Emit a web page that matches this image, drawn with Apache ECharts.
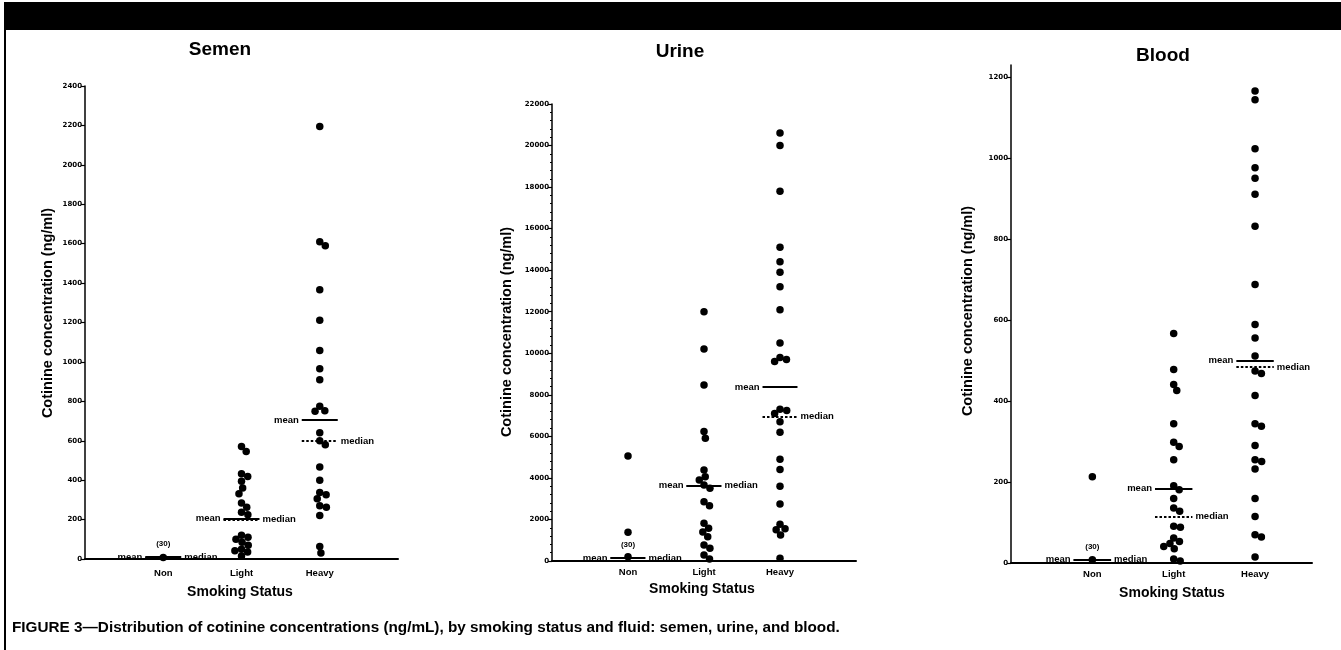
<!DOCTYPE html>
<html>
<head>
<meta charset="utf-8">
<script src="https://cdn.jsdelivr.net/npm/echarts@6/dist/echarts.min.js"></script>
<style>
  html, body { margin: 0; padding: 0; background: #fff; }
  #chart { width: 1341px; height: 650px; }
</style>
</head>
<body>
<div id="chart"></div>
<script>
// smoking groups on the x axis
const categories = ['Non', 'Light', 'Heavy'];

// semen cotinine (ng/ml)
const semenNon = [8];
const semenLight = [571, 546, 433, 419, 394, 360, 331, 284, 262, 237, 225, 120, 110, 100, 85, 70, 50, 42, 35, 15];
const semenHeavy = [2195, 1610, 1590, 1366, 1211, 1058, 965, 910, 775, 752, 750, 640, 600, 580, 467, 399, 338, 326, 306, 270, 262, 221, 64, 30];
const semenMean = [10, 204, 705];
const semenMedian = [8, 200, 599];
const semenTicks = [0, 200, 400, 600, 800, 1000, 1200, 1400, 1600, 1800, 2000, 2200, 2400];

// urine cotinine (ng/ml)
const urineNon = [5060, 1380, 200];
const urineLight = [12000, 10200, 8478, 6230, 5909, 4383, 4061, 3902, 3661, 3502, 2857, 2665, 1815, 1574, 1400, 1172, 771, 610, 289, 96];
const urineHeavy = [20600, 20000, 17800, 15100, 14400, 13900, 13200, 12100, 10500, 9800, 9700, 9600, 7300, 7250, 7100, 6700, 6200, 4900, 4400, 3600, 2750, 1770, 1550, 1500, 1250, 130];
const urineMean = [150, 3627, 8380];
const urineMedian = [140, 3627, 6940];
const urineTicks = [0, 2000, 4000, 6000, 8000, 10000, 12000, 14000, 16000, 18000, 20000, 22000];

// blood cotinine (ng/ml)
const bloodNon = [213, 8];
const bloodLight = [567, 478, 441, 426, 344, 298, 288, 255, 191, 181, 159, 136, 128, 91, 88, 62, 53, 48, 41, 35, 10, 5];
const bloodHeavy = [1166, 1144, 1023, 976, 950, 911, 832, 688, 589, 556, 511, 474, 468, 414, 344, 338, 290, 255, 251, 232, 159, 115, 70, 64, 15];
const bloodMean = [8, 184, 500];
const bloodMedian = [8, 114, 484];
const bloodTicks = [0, 200, 400, 600, 800, 1000, 1200];

const nonCount = '(30)';

const FONT = 'Liberation Sans, Arial, sans-serif';
const TICK_FONT = 'DejaVu Sans, sans-serif';

const panels = [
    { title: 'Semen', groups: [semenNon, semenLight, semenHeavy], mean: semenMean, median: semenMedian,
      ticks: semenTicks, yMax: 2400, xMax: 4, minor: false, xOffset: 4,
      grid: { left: 85, top: 86, width: 313, height: 473 },
      titlePos: [220, 50], yNamePos: [48, 313], xNamePos: [240, 592] },
    { title: 'Urine', groups: [urineNon, urineLight, urineHeavy], mean: urineMean, median: urineMedian,
      ticks: urineTicks, yMax: 22000, xMax: 4, minor: true, xOffset: 1,
      grid: { left: 552, top: 104, width: 304, height: 457 },
      titlePos: [680, 52], yNamePos: [507, 332], xNamePos: [702, 589] },
    { title: 'Blood', groups: [bloodNon, bloodLight, bloodHeavy], mean: bloodMean, median: bloodMedian,
      ticks: bloodTicks, yMax: 1230, xMax: 3.7, minor: false, xOffset: 1,
      grid: { left: 1011, top: 65, width: 301, height: 498 },
      titlePos: [1163, 56], yNamePos: [968, 311], xNamePos: [1172, 593] }
];

// spread dots sideways so they don't sit on top of each other
function swarm(vals, cat, pxPerX, pxPerY) {
    const d = 6.8;
    const placed = [];
    return vals.slice().sort((a, b) => b - a).map(v => {
        const y = v * pxPerY;
        const near = placed.filter(p => Math.abs(p.y - y) < d);
        const cands = [0];
        near.forEach(p => {
            const off = Math.sqrt(d * d - (p.y - y) * (p.y - y));
            cands.push(p.x + off, p.x - off);
        });
        cands.sort((a, b) => Math.abs(a) - Math.abs(b));
        const x = cands.find(c => near.every(p => Math.hypot(p.x - c, p.y - y) >= d - 1e-6));
        placed.push({ x, y });
        return [cat + x / pxPerX, v];
    });
}

const grids = [], xAxes = [], yAxes = [], series = [], graphics = [];
const HW = 0.23;
const markLabel = { fontSize: 9.5, fontWeight: 'bold', fontFamily: FONT, color: '#000', distance: 3 };

panels.forEach((p, i) => {
    grids.push(p.grid);
    const pxPerX = p.grid.width / p.xMax;
    const pxPerY = p.grid.height / p.yMax;
    xAxes.push({
        gridIndex: i, type: 'value', min: 0, max: p.xMax, interval: 1, offset: p.xOffset,
        axisLine: { show: true, lineStyle: { color: '#000', width: 2 } },
        axisTick: { show: false }, splitLine: { show: false },
        axisLabel: {
            margin: 5, color: '#000', fontSize: 9.5, fontWeight: 'bold', fontFamily: FONT,
            formatter: v => categories[v - 1] || ''
        }
    });
    yAxes.push({
        gridIndex: i, type: 'value', min: 0, max: p.yMax, interval: p.ticks[1] - p.ticks[0],
        axisLine: { show: true, lineStyle: { color: '#000', width: 1.5 } },
        axisTick: { show: true, length: 4, lineStyle: { color: '#000', width: 1.2 }, customValues: p.ticks },
        minorTick: { show: p.minor, splitNumber: 5, length: 2, lineStyle: { color: '#000', width: 1 } },
        splitLine: { show: false },
        axisLabel: {
            margin: 3, color: '#000', fontSize: 7, fontWeight: 'bold', fontFamily: TICK_FONT,
            customValues: p.ticks,
            formatter: v => (p.ticks.indexOf(v) >= 0 ? String(v) : '')
        }
    });

    const pts = [];
    p.groups.forEach((g, c) => pts.push(...swarm(g, c + 1, pxPerX, pxPerY)));

    const lines = [];
    p.mean.forEach((m, c) => {
        lines.push([
            { coord: [c + 1 - HW, m], lineStyle: { type: 'solid', width: 2, color: '#000' },
              label: Object.assign({ show: true, position: 'start', formatter: 'mean' }, markLabel) },
            { coord: [c + 1 + HW, m] }
        ]);
    });
    p.median.forEach((m, c) => {
        lines.push([
            { coord: [c + 1 - HW, m], lineStyle: { type: [2.5, 2], width: 2, color: '#000' },
              label: Object.assign({ show: true, position: 'end', formatter: 'median' }, markLabel) },
            { coord: [c + 1 + HW, m] }
        ]);
    });

    series.push({
        type: 'scatter', xAxisIndex: i, yAxisIndex: i,
        symbol: 'circle', symbolSize: 7.5,
        itemStyle: { color: '#000', opacity: 1 },
        data: pts,
        markLine: { silent: true, symbol: ['none', 'none'], data: lines },
        markPoint: {
            silent: true, symbol: 'circle', symbolSize: 1,
            itemStyle: { color: 'rgba(0,0,0,0)' },
            data: [{ coord: [1, p.mean[0]],
                     label: { show: true, formatter: nonCount, position: 'inside', offset: [0, -13],
                              fontSize: 8, fontWeight: 'bold', fontFamily: FONT, color: '#000' } }]
        }
    });

    graphics.push(
        { type: 'text', x: p.titlePos[0], y: p.titlePos[1],
          style: { text: p.title, font: 'bold 19px ' + FONT, fill: '#000', textAlign: 'center', textVerticalAlign: 'middle' } },
        { type: 'text', x: p.yNamePos[0], y: p.yNamePos[1], rotation: Math.PI / 2,
          style: { text: 'Cotinine concentration (ng/ml)', font: 'bold 14.5px ' + FONT, fill: '#000', textAlign: 'center', textVerticalAlign: 'middle' } },
        { type: 'text', x: p.xNamePos[0], y: p.xNamePos[1],
          style: { text: 'Smoking Status', font: 'bold 14px ' + FONT, fill: '#000', textAlign: 'center', textVerticalAlign: 'middle' } }
    );
});

// frame: black band on top, thin rule down the left, caption at the bottom
graphics.push(
    { type: 'rect', shape: { x: 4, y: 2, width: 1337, height: 28 }, style: { fill: '#000' } },
    { type: 'rect', shape: { x: 4, y: 28, width: 2, height: 622 }, style: { fill: '#000' } },
    { type: 'text', x: 12, y: 628,
      style: { text: 'FIGURE 3\u2014Distribution of cotinine concentrations (ng/mL), by smoking status and fluid: semen, urine, and blood.',
               font: 'bold 15.3px ' + FONT, fill: '#000', textAlign: 'left', textVerticalAlign: 'middle' } }
);

const chart = echarts.init(document.getElementById('chart'));
chart.setOption({
    animation: false,
    backgroundColor: '#fff',
    grid: grids,
    xAxis: xAxes,
    yAxis: yAxes,
    series: series,
    graphic: graphics
});
</script>
</body>
</html>
